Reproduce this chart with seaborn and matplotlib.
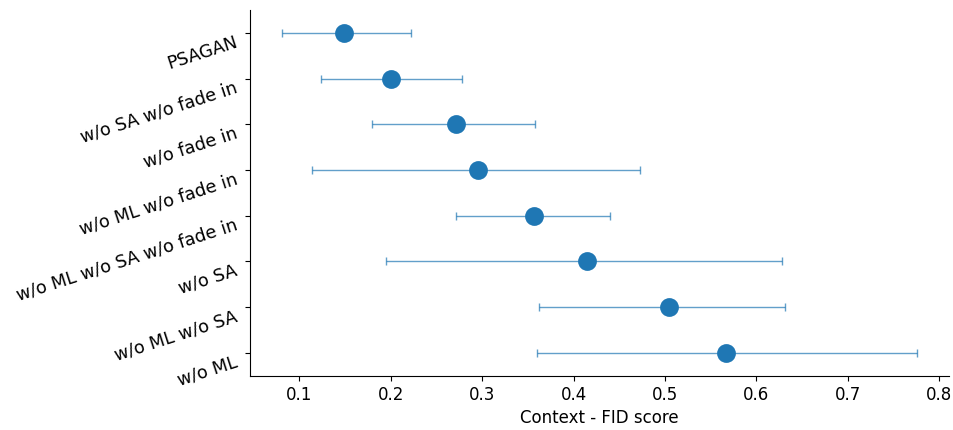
import numpy as np
import pandas as pd
import seaborn as sns
import matplotlib.pyplot as plt

plt.rcParams['font.family'] = ['DejaVu Sans']
plt.rcParams['font.size'] = 12

# 各模型的 Context-FID 分数（中心值与区间上下界）
models = ['PSAGAN', 'w/o SA w/o fade in', 'w/o fade in', 'w/o ML w/o fade in',
          'w/o ML w/o SA w/o fade in', 'w/o SA', 'w/o ML w/o SA', 'w/o ML']
score = [0.149, 0.201, 0.272, 0.296, 0.357, 0.415, 0.504, 0.567]
low = [0.081, 0.124, 0.180, 0.114, 0.272, 0.195, 0.362, 0.360]
high = [0.222, 0.278, 0.358, 0.473, 0.440, 0.628, 0.631, 0.776]

df = pd.DataFrame({'model': models, 'score': score, 'low': low, 'high': high})

fig, ax = plt.subplots(figsize=(9.54, 4.30), dpi=100)
fig.subplots_adjust(left=0.262, right=0.995, bottom=0.126, top=0.977)

sns.pointplot(data=df, x='score', y='model', order=models, errorbar=None,
              linestyle='none', color='#1f77b4', markersize=11.5, ax=ax)
ax.errorbar(df['score'], np.arange(len(models)),
            xerr=[df['score'] - df['low'], df['high'] - df['score']],
            fmt='none', ecolor='#1f77b4', alpha=0.7, elinewidth=1, capsize=3, zorder=1)

ax.set_xlabel('Context - FID score')
ax.set_ylabel('')
ax.set_xticks([0.1, 0.2, 0.3, 0.4, 0.5, 0.6, 0.7, 0.8])
ax.margins(x=0.05)
ax.set_ylim(len(models) - 0.5, -0.5)
ax.tick_params(axis='y', pad=8, labelsize=12.7)
for lab in ax.get_yticklabels():
    lab.set_rotation(18)
    lab.set_rotation_mode('anchor')
    lab.set_ha('right')
    lab.set_va('top')
sns.despine(ax=ax)

plt.savefig('out.png', dpi=100)
